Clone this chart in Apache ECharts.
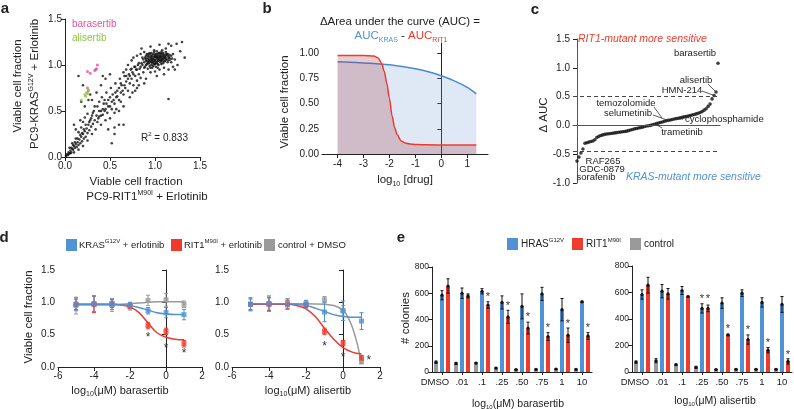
<!DOCTYPE html>
<html><head><meta charset="utf-8">
<script src="https://cdn.jsdelivr.net/npm/echarts@6/dist/echarts.min.js"></script>
<style>html,body{margin:0;padding:0;background:#fff}#c{width:794px;height:409px}</style>
</head><body><div id="c"></div>
<script>
// ---------- DATA ----------
// Panel a: scatter (KRAS vs RIT1 viable fraction)
const scatterAll = [
[0.01,0.01],[0.02,0.03],[0.03,0.02],[0.04,0.05],[0.05,0.04],[0.06,0.07],[0.07,0.05],[0.08,0.09],[0.09,0.08],[0.10,0.12],[0.11,0.10],[0.12,0.14],[0.13,0.11],[0.14,0.16],[0.15,0.13],[0.16,0.19],[0.17,0.15],[0.18,0.22],[0.19,0.17],[0.20,0.25],[0.21,0.20],[0.22,0.28],[0.23,0.22],[0.24,0.31],[0.25,0.26],[0.26,0.35],[0.27,0.29],[0.28,0.40],[0.29,0.33],[0.30,0.45],[0.31,0.36],[0.32,0.50],[0.33,0.40],[0.05,0.10],[0.08,0.15],[0.12,0.20],[0.15,0.27],[0.18,0.32],[0.20,0.38],[0.22,0.43],[0.25,0.47],[0.10,0.05],[0.15,0.08],[0.20,0.12],[0.25,0.18],[0.30,0.25],[0.12,0.30],[0.17,0.40],[0.22,0.55],[0.26,0.62],
[0.35,0.45],[0.36,0.55],[0.37,0.42],[0.38,0.60],[0.40,0.50],[0.41,0.65],[0.42,0.46],[0.43,0.58],[0.45,0.52],[0.46,0.70],[0.47,0.48],[0.48,0.62],[0.50,0.55],[0.51,0.75],[0.52,0.60],[0.53,0.68],[0.55,0.58],[0.56,0.80],[0.57,0.65],[0.58,0.72],[0.60,0.62],[0.61,0.85],[0.62,0.70],[0.63,0.78],[0.65,0.68],[0.66,0.88],[0.67,0.75],[0.68,0.82],[0.70,0.72],[0.34,0.30],[0.40,0.35],[0.45,0.40],[0.50,0.42],[0.55,0.48],[0.60,0.50],[0.65,0.55],[0.35,0.70],[0.40,0.78],[0.45,0.85],[0.50,0.90],[0.30,0.62],[0.48,0.30],[0.55,0.25],[0.52,0.15],[0.60,0.35],[0.42,0.88],[0.38,0.50],[0.44,0.62],[0.57,0.52],[0.62,0.60],
[0.71,0.90],[0.72,0.80],[0.73,0.95],[0.74,0.85],[0.75,0.92],[0.76,0.78],[0.77,0.98],[0.78,0.88],[0.79,0.95],[0.80,0.83],[0.81,1.00],[0.82,0.90],[0.83,0.96],[0.84,0.86],[0.85,1.02],[0.72,0.65],[0.75,0.70],[0.78,0.72],[0.80,0.75],[0.82,0.78],[0.70,1.00],[0.74,1.05],[0.68,0.95],[0.65,0.92],[0.76,1.08],[0.80,1.10],[0.84,1.12],[0.88,0.80],[0.90,0.85],[0.87,0.92],
[0.86,1.00],[0.88,1.03],[0.89,0.98],[0.90,1.05],[0.91,1.01],[0.92,1.07],[0.93,1.02],[0.94,1.04],[0.95,1.08],[0.96,1.00],[0.97,1.05],[0.98,1.03],[0.99,1.09],[1.00,1.06],[1.01,1.02],[1.02,1.08],[1.03,1.04],[1.04,1.10],[1.05,1.06],[1.06,1.03],[1.07,1.09],[1.08,1.05],[1.09,1.07],[1.10,1.11],[1.11,1.04],[1.12,1.08],[1.13,1.06],[1.14,1.10],[1.15,1.05],[0.92,0.96],[0.95,0.97],[0.98,0.99],[1.01,0.98],[1.04,1.00],[1.07,1.01],[0.90,1.10],[0.93,1.12],[0.96,1.13],[0.99,1.14],[1.02,1.15],[1.05,1.13],[0.94,1.06],[0.97,1.10],[1.00,1.11],[1.03,1.12],[1.06,1.12],[1.09,1.13],[0.91,1.04],[0.95,1.03],[0.97,1.07],[1.00,1.04],[1.02,1.06],[1.04,1.07],[1.06,1.08],[1.08,1.10],[0.99,1.01],[1.01,1.09],[1.03,1.08],[0.96,1.06],[0.93,1.09],[1.10,1.07],[1.12,1.11],[1.16,1.08],[1.18,1.10],[1.20,1.12],[1.18,1.03],[1.22,1.06],[1.25,1.00],[1.20,0.98],[1.15,0.95],[1.10,0.97],[1.05,0.95],[1.00,0.93],[0.95,0.92],[1.08,1.16],[1.12,1.18],[1.18,1.21],[1.24,1.23],[1.30,1.25],[1.15,1.23],[1.33,1.08],[1.28,1.15],[1.22,0.95],[1.10,0.90],[1.15,0.63],[0.88,1.14],[0.85,1.18],[0.95,1.20],[1.05,1.22],[1.02,0.88],
[0.87,1.06],[0.89,1.08],[0.91,1.12],[0.93,1.05],[0.95,1.11],[0.97,1.02],[0.99,1.05],[1.01,1.12],[1.03,1.01],[1.05,1.09],[1.07,1.05],[1.09,1.02],[1.11,1.09],[1.13,1.12],[1.15,1.08],[1.17,1.06],[0.90,1.00],[0.92,1.02],[0.94,0.99],[0.96,1.04],[0.98,1.07],[1.00,1.09],[1.02,1.03],[1.04,1.05],[1.06,1.10],[1.08,1.07],[1.10,1.04],[1.12,1.06],[1.14,1.03],[0.86,1.08],[0.88,0.97],[0.90,1.07],[0.92,1.10],[0.94,1.13],[0.96,1.09],[0.98,1.12],[1.00,1.01],[1.02,1.10],[1.04,1.13],[1.06,1.05],[1.08,1.12],[1.10,1.09],[1.12,1.14],[1.14,1.12],[1.16,1.11],[1.19,1.07],[0.97,0.97],[1.03,0.97],[0.99,1.16],[1.07,1.14],
[0.40,0.45],[0.42,0.52],[0.44,0.50],[0.46,0.58],[0.48,0.55],[0.50,0.65],[0.52,0.52],[0.54,0.62],[0.56,0.70],[0.58,0.66],[0.60,0.75],[0.62,0.80],[0.64,0.72],[0.66,0.78],[0.68,0.88],[0.70,0.85],[0.72,0.88],[0.74,0.96],[0.76,0.90],[0.78,0.98],[0.80,0.95],[0.82,1.02],[0.84,0.98],[0.36,0.38],[0.38,0.44],[0.33,0.55],[0.31,0.48],[0.29,0.42],[0.27,0.38],[0.23,0.35],[0.21,0.30],[0.19,0.26],[0.17,0.24],[0.14,0.20],[0.11,0.16],[0.09,0.13],[0.07,0.10],[0.06,0.04],[0.04,0.03],
[0.15,0.88],[0.20,0.78],[0.65,0.35],[0.55,0.32],[0.28,0.68],[0.18,0.60],[0.10,0.35]
];
const scatterBarasertib = [[0.25,0.93],[0.28,0.91],[0.33,0.94],[0.35,0.96],[0.36,1.00],[0.34,0.95],[0.25,0.75],[0.26,0.72]];
const scatterAlisertib = [[0.22,0.68],[0.24,0.70],[0.25,0.69],[0.26,0.73],[0.18,0.62],[0.23,0.66]];

// Panel b: schematic dose-response curves
const bKrasX = [-4,-3.5,-3,-2.5,-2,-1.5,-1,-0.5,0,0.5,1,1.35];
const bKrasY = [0.914,0.91,0.903,0.894,0.884,0.866,0.844,0.815,0.775,0.725,0.66,0.596];
const bRitX = [-4,-3,-2.6,-2.45,-2.3,-2.2,-2.1,-2.0,-1.9,-1.8,-1.7,-1.55,-1.4,-1.2,-1,0,1,1.35];
const bRitY = [0.975,0.975,0.97,0.955,0.90,0.82,0.70,0.55,0.38,0.26,0.19,0.13,0.11,0.10,0.095,0.09,0.09,0.09];
const bXTicks = [-4,-3,-2,-1,0,1];
const bYTicks = [0,0.25,0.5,0.75,1.0];

// Panel c: sorted delta AUC (rank order)
const cDeltaAUC = [-0.62,-0.55,-0.48,-0.41,-0.31,-0.30,-0.29,-0.28,-0.27,-0.25,-0.21,-0.19,-0.175,-0.165,-0.155,-0.15,-0.145,-0.14,-0.135,-0.13,-0.125,-0.12,-0.115,-0.11,-0.105,-0.10,-0.09,-0.08,-0.07,-0.06,-0.053,-0.045,-0.038,-0.03,-0.02,-0.01,-0.005,0.0,0.01,0.02,0.03,0.04,0.05,0.06,0.07,0.08,0.088,0.095,0.103,0.11,0.118,0.125,0.133,0.14,0.148,0.155,0.163,0.17,0.18,0.19,0.20,0.21,0.225,0.24,0.265,0.29,0.33,0.37,0.46,0.52,0.58,1.08];
const cThresholds = [0.5, -0.45];

// Panel d: dose-response (log10 uM)
const dDoses = [-5,-4,-3,-2,-1,0,1];
const dBaraKras = [0.97,0.98,0.97,0.95,0.87,0.84,0.81];
const dBaraKrasErr = [0.10,0.12,0.08,0.05,0.05,0.08,0.08];
const dBaraRit = [0.97,0.97,0.98,0.94,0.64,0.55,0.36];
const dBaraRitErr = [0.08,0.13,0.06,0.03,0.05,0.05,0.05];
const dBaraCtrl = [0.95,0.97,0.96,0.94,1.03,1.04,0.97];
const dBaraCtrlErr = [0.13,0.12,0.10,0.06,0.08,0.10,0.05];
const dFitX = [-5,-4,-3,-2.5,-2,-1.5,-1,-0.5,0,0.5,1];
const dBaraKrasFit = [0.97,0.97,0.97,0.96,0.95,0.92,0.88,0.84,0.82,0.81,0.81];
const dBaraRitFit = [0.97,0.97,0.97,0.96,0.93,0.84,0.68,0.53,0.46,0.43,0.42];
const dBaraCtrlFit = [0.96,0.96,0.96,0.97,0.98,0.99,1.00,1.01,1.01,1.01,1.01];
const dBaraStars = [[-1,0.45],[0,0.29],[1,0.20]];

const dAliKras = [0.97,0.98,0.97,0.97,0.85,0.87,0.71];
const dAliKrasErr = [0.10,0.12,0.08,0.06,0.15,0.15,0.13];
const dAliRit = [0.97,0.97,0.97,0.96,0.55,0.37,0.14];
const dAliRitErr = [0.08,0.10,0.06,0.04,0.05,0.04,0.04];
const dAliCtrl = [0.97,0.98,0.98,0.98,1.04,0.87,0.08];
const dAliCtrlErr = [0.10,0.10,0.08,0.05,0.05,0.08,0.03];
const dAliKrasFit = [0.98,0.98,0.98,0.97,0.95,0.91,0.86,0.81,0.78,0.77,0.77];
const dAliRitFit = [0.97,0.97,0.97,0.95,0.90,0.78,0.60,0.43,0.30,0.23,0.20];
const dAliCtrlFitX = [-5,-3,-2,-1,-0.5,0,0.25,0.5,0.75,1];
const dAliCtrlFit = [0.98,0.98,0.98,0.97,0.95,0.88,0.78,0.62,0.38,0.05];
const dAliStars = [[-1,0.32],[0,0.14],[1.4,0.10]];

// Panel e: colonies
const eCats = ['DMSO','.01','.1','.25','.50','.75','1','10'];
const eBaraCtrl = [75,65,68,30,18,20,22,20];
const eBaraCtrlErr = [8,8,5,5,3,3,3,3];
const eBaraHras = [585,600,615,530,500,595,475,535];
const eBaraHrasErr = [35,40,20,50,95,50,85,5];
const eBaraRit = [655,580,510,420,335,270,280,275];
const eBaraRitErr = [55,15,25,50,45,30,55,25];
const eBaraStars = [[2,573],[3,503],[4,423],[5,335],[6,365],[7,334]];

const eAliCtrl = [75,85,55,35,18,20,20,20];
const eAliCtrlErr = [8,15,5,8,3,3,3,3];
const eAliHras = [585,610,615,480,520,595,525,510];
const eAliHrasErr = [35,50,30,35,40,25,35,60];
const eAliRit = [655,590,570,480,280,245,165,80];
const eAliRitErr = [60,40,3,25,5,35,20,20];
const eAliStarsHras = [[3,549]];
const eAliStarsRit = [[3,549],[4,324],[5,318],[6,218],[7,125]];

// ---------- STYLE ----------
const FONT = 'Liberation Sans, Arial, sans-serif';
const BLUE = '#4f92d6', RED = '#ee3b2d', GRAY = '#9a9a9a', INK = '#222';
const zip = (xs, ys) => xs.map((x, i) => [x, ys[i]]);
const zip3 = (xs, ys, es) => xs.map((x, i) => [x, ys[i], es[i]]);
const eIdx = eCats.map((c, i) => i);

const chart = echarts.init(document.getElementById('c'), null, {renderer: 'canvas'});

function axisBase(gi, extra) {
  return Object.assign({
    gridIndex: gi, type: 'value',
    axisLine: {show: true, lineStyle: {color: INK, width: 1}},
    axisTick: {show: true, length: 4, lineStyle: {color: INK}},
    splitLine: {show: false},
    axisLabel: {color: INK, fontFamily: FONT, fontSize: 10, margin: 4}
  }, extra);
}
function fixed(n) { return v => v.toFixed(n); }

function errBar(offsetPx, color, capW, dotR) {
  return function (params, api) {
    const x = api.value(0), y = api.value(1), e = api.value(2);
    const c = api.coord([x, y]), hi = api.coord([x, y + e]), lo = api.coord([x, y - e]);
    const cx = c[0] + offsetPx;
    const st = {stroke: color, lineWidth: 1};
    const ch = [
      {type: 'line', shape: {x1: cx, y1: hi[1], x2: cx, y2: lo[1]}, style: st},
      {type: 'line', shape: {x1: cx - capW, y1: hi[1], x2: cx + capW, y2: hi[1]}, style: st},
      {type: 'line', shape: {x1: cx - capW, y1: lo[1], x2: cx + capW, y2: lo[1]}, style: st}
    ];
    if (dotR) ch.push({type: 'circle', shape: {cx: cx, cy: c[1], r: dotR}, style: {fill: '#111'}});
    return {type: 'group', children: ch};
  };
}
function starRender(offsetPx, size) {
  return function (params, api) {
    const c = api.coord([api.value(0), api.value(1)]);
    return {type: 'text', x: c[0] + offsetPx, y: c[1],
      style: {text: '*', fill: '#333', font: size + 'px ' + FONT, align: 'center', verticalAlign: 'middle'}};
  };
}
function errSeries(gi, data, off, color, capW, dotR) {
  return {type: 'custom', xAxisIndex: gi, yAxisIndex: gi, data: data, renderItem: errBar(off, color, capW, dotR), z: 5, silent: true};
}
function starSeries(gi, data, off, size) {
  return {type: 'custom', xAxisIndex: gi, yAxisIndex: gi, data: data, renderItem: starRender(off, size), z: 6, silent: true};
}
function fitLine(gi, data, color) {
  return {type: 'line', xAxisIndex: gi, yAxisIndex: gi, data: data, showSymbol: false, smooth: 0.4,
    lineStyle: {color: color, width: 1.5}, z: 3, silent: true};
}
function pts(gi, data, color) {
  return {type: 'scatter', xAxisIndex: gi, yAxisIndex: gi, data: data, symbol: 'rect', symbolSize: 5,
    itemStyle: {color: color}, z: 6, silent: true};
}
function bars(gi, data, color) {
  return {type: 'bar', xAxisIndex: gi, yAxisIndex: gi, data: data, barWidth: 4, barGap: '50%',
    itemStyle: {color: color}, silent: true};
}
function catAxis(gi) {
  return axisBase(gi, {type: 'category', data: eCats,
    axisTick: {show: true, alignWithLabel: true, length: 3, lineStyle: {color: INK}},
    axisLabel: {color: INK, fontFamily: FONT, fontSize: 9.5, margin: 5, interval: 0,
      formatter: v => v === 'DMSO' ? '{d|DMSO}' : v,
      rich: {d: {fontFamily: FONT, fontSize: 9.5, color: INK, padding: [0, 14, 0, 0]}}}});
}

function txt(x, y, text, size, opts) {
  opts = opts || {};
  const col = opts.color || INK;
  const sm = Math.round(size * 0.6);
  const rich = {
    n: {fontFamily: FONT, fontSize: size, fill: col, lineHeight: size + 3},
    sup: {fontFamily: FONT, fontSize: sm, verticalAlign: 'top', fill: col},
    sub: {fontFamily: FONT, fontSize: sm, verticalAlign: 'bottom', fill: col},
    b: {fontFamily: FONT, fontSize: size, fill: BLUE},
    bs: {fontFamily: FONT, fontSize: sm, verticalAlign: 'bottom', fill: BLUE},
    r: {fontFamily: FONT, fontSize: size, fill: RED},
    rs: {fontFamily: FONT, fontSize: sm, verticalAlign: 'bottom', fill: RED}
  };
  return {type: 'text', x: x, y: y, rotation: opts.rot || 0, z: 100,
    style: {text: text, rich: rich, fill: col,
      font: (opts.italic ? 'italic ' : '') + (opts.bold ? 'bold ' : '') + size + 'px ' + FONT,
      align: opts.align || 'center', verticalAlign: 'middle'}};
}
function sq(x, y, color) {
  return {type: 'rect', shape: {x: x, y: y, width: 11, height: 12}, style: {fill: color}, z: 100};
}
function seg(x1, y1, x2, y2) {
  return {type: 'line', shape: {x1: x1, y1: y1, x2: x2, y2: y2}, style: {stroke: '#333', lineWidth: 0.8}, z: 100};
}

const cIdx = cDeltaAUC.map((v, i) => [i, v]);

const option = {
  animation: false,
  backgroundColor: '#fff',
  grid: [
    {left: 65, top: 19, width: 135, height: 138},
    {left: 322, top: 43, width: 166, height: 111},
    {left: 573, top: 39, width: 147, height: 144},
    {left: 58, top: 270, width: 144, height: 97},
    {left: 232, top: 270, width: 148, height: 97},
    {left: 432, top: 267, width: 160, height: 105},
    {left: 632, top: 266, width: 160, height: 106}
  ],
  xAxis: [
    axisBase(0, {min: 0, max: 1.5, interval: 0.5, axisLabel: {color: INK, fontFamily: FONT, fontSize: 10, margin: 4, formatter: fixed(1)}}),
    axisBase(1, {min: -4.6, max: 1.8,
      axisTick: {show: true, length: 4, lineStyle: {color: INK}, customValues: bXTicks},
      axisLabel: {color: INK, fontFamily: FONT, fontSize: 10, margin: 5, customValues: bXTicks}}),
    axisBase(2, {min: -2, max: 72, axisTick: {show: false}, axisLabel: {show: false}, axisLine: {show: true, lineStyle: {color: '#555', width: 1}}}),
    axisBase(3, {min: -6, max: 2, interval: 2}),
    axisBase(4, {min: -6, max: 2, interval: 2}),
    catAxis(5),
    catAxis(6)
  ],
  yAxis: [
    axisBase(0, {min: 0, max: 1.5, interval: 0.5, axisLabel: {color: INK, fontFamily: FONT, fontSize: 10, margin: 3, formatter: fixed(1)}}),
    axisBase(1, {min: 0, max: 1.1,
      axisTick: {show: true, length: 4, lineStyle: {color: INK}, customValues: bYTicks},
      axisLabel: {color: INK, fontFamily: FONT, fontSize: 10, margin: 3, customValues: bYTicks, formatter: fixed(2)}}),
    axisBase(2, {min: -1, max: 1.5, interval: 0.5, axisLine: {show: true, lineStyle: {color: '#555'}}, axisLabel: {color: INK, fontFamily: FONT, fontSize: 10, margin: 3, formatter: fixed(1)}}),
    axisBase(3, {min: 0, max: 1.5, interval: 0.5, axisLabel: {color: INK, fontFamily: FONT, fontSize: 10, margin: 3, formatter: fixed(1)}}),
    axisBase(4, {min: 0, max: 1.5, interval: 0.5, axisLabel: {color: INK, fontFamily: FONT, fontSize: 10, margin: 3, formatter: fixed(1)}}),
    axisBase(5, {min: 0, max: 800, interval: 200, axisLabel: {color: INK, fontFamily: FONT, fontSize: 8.5, margin: 3}}),
    axisBase(6, {min: 0, max: 800, interval: 200, axisLabel: {color: INK, fontFamily: FONT, fontSize: 8.5, margin: 3}})
  ],
  series: [
    // a
    {type: 'scatter', xAxisIndex: 0, yAxisIndex: 0, data: scatterAll, symbolSize: 2.6, itemStyle: {color: '#111'}, silent: true},
    {type: 'scatter', xAxisIndex: 0, yAxisIndex: 0, data: scatterBarasertib, symbolSize: 3, itemStyle: {color: '#ec4f9a'}, silent: true, z: 4},
    {type: 'scatter', xAxisIndex: 0, yAxisIndex: 0, data: scatterAlisertib, symbolSize: 3, itemStyle: {color: '#8cc63f'}, silent: true, z: 4},
    // b
    {type: 'line', xAxisIndex: 1, yAxisIndex: 1, data: zip(bKrasX, bKrasY), showSymbol: false, smooth: 0.3,
      lineStyle: {color: '#4a8ad4', width: 1.5}, areaStyle: {color: 'rgba(120,165,215,0.35)', origin: 'start'}, z: 2, silent: true},
    {type: 'line', xAxisIndex: 1, yAxisIndex: 1, data: zip(bRitX, bRitY), showSymbol: false, smooth: 0.3, smoothMonotone: 'x',
      lineStyle: {color: RED, width: 1.5}, areaStyle: {color: 'rgba(160,50,60,0.35)', origin: 'start'}, z: 3, silent: true},
    // c
    {type: 'scatter', xAxisIndex: 2, yAxisIndex: 2, data: cIdx, symbolSize: 3.6, itemStyle: {color: '#111'}, silent: true, z: 4,
      markLine: {silent: true, symbol: 'none', label: {show: false}, animation: false,
        data: [
          {yAxis: 0, lineStyle: {color: '#555', type: 'solid', width: 1}},
          {yAxis: cThresholds[0], lineStyle: {color: '#444', type: [4, 3], width: 1}},
          {yAxis: cThresholds[1], lineStyle: {color: '#444', type: [4, 3], width: 1}}
        ]}},
    // d left (barasertib)
    fitLine(3, zip(dFitX, dBaraCtrlFit), GRAY),
    fitLine(3, zip(dFitX, dBaraRitFit), RED),
    fitLine(3, zip(dFitX, dBaraKrasFit), BLUE),
    errSeries(3, zip3(dDoses, dBaraCtrl, dBaraCtrlErr), 0, GRAY, 2),
    errSeries(3, zip3(dDoses, dBaraRit, dBaraRitErr), 0, RED, 2),
    errSeries(3, zip3(dDoses, dBaraKras, dBaraKrasErr), 0, BLUE, 2),
    pts(3, zip(dDoses, dBaraCtrl), GRAY),
    pts(3, zip(dDoses, dBaraRit), RED),
    pts(3, zip(dDoses, dBaraKras), BLUE),
    starSeries(3, dBaraStars, 0, 12),
    // d right (alisertib)
    fitLine(4, zip(dAliCtrlFitX, dAliCtrlFit), GRAY),
    fitLine(4, zip(dFitX, dAliRitFit), RED),
    fitLine(4, zip(dFitX, dAliKrasFit), BLUE),
    errSeries(4, zip3(dDoses, dAliCtrl, dAliCtrlErr), 0, GRAY, 2),
    errSeries(4, zip3(dDoses, dAliRit, dAliRitErr), 0, RED, 2),
    errSeries(4, zip3(dDoses, dAliKras, dAliKrasErr), 0, BLUE, 2),
    pts(4, zip(dDoses, dAliCtrl), GRAY),
    pts(4, zip(dDoses, dAliRit), RED),
    pts(4, zip(dDoses, dAliKras), BLUE),
    starSeries(4, dAliStars, 0, 12),
    // e left
    bars(5, eBaraCtrl, GRAY), bars(5, eBaraHras, BLUE), bars(5, eBaraRit, RED),
    errSeries(5, zip3(eIdx, eBaraCtrl, eBaraCtrlErr), -6, '#111', 1.5, 1.6),
    errSeries(5, zip3(eIdx, eBaraHras, eBaraHrasErr), 0, '#111', 1.5, 1.6),
    errSeries(5, zip3(eIdx, eBaraRit, eBaraRitErr), 6, '#111', 1.5, 1.6),
    starSeries(5, eBaraStars, 6, 11),
    // e right
    bars(6, eAliCtrl, GRAY), bars(6, eAliHras, BLUE), bars(6, eAliRit, RED),
    errSeries(6, zip3(eIdx, eAliCtrl, eAliCtrlErr), -6, '#111', 1.5, 1.6),
    errSeries(6, zip3(eIdx, eAliHras, eAliHrasErr), 0, '#111', 1.5, 1.6),
    errSeries(6, zip3(eIdx, eAliRit, eAliRitErr), 6, '#111', 1.5, 1.6),
    starSeries(6, eAliStarsHras, 0, 11),
    starSeries(6, eAliStarsRit, 6, 11)
  ],
  graphic: [
    // panel letters
    txt(5, 9, 'a', 15, {bold: true}),
    txt(267, 9, 'b', 15, {bold: true}),
    txt(535, 10, 'c', 15, {bold: true}),
    txt(4, 238, 'd', 15, {bold: true}),
    txt(401, 238, 'e', 15, {bold: true}),
    // a
    txt(18, 86, '{n|Viable cell fraction}', 11.5, {rot: Math.PI / 2}),
    txt(35, 84, '{n|PC9-KRAS}{sup|G12V}{n| + Erlotinib}', 11.5, {rot: Math.PI / 2}),
    txt(136, 182, '{n|Viable cell fraction}', 11.5),
    txt(147, 197, '{n|PC9-RIT1}{sup|M90I}{n| + Erlotinib}', 11.5),
    txt(72, 24, 'barasertib', 10, {align: 'left', color: '#ec4f9a'}),
    txt(72, 38, 'alisertib', 10, {align: 'left', color: '#8cc63f'}),
    txt(141, 138, '{n|R}{sup|2}{n| = 0.833}', 10, {align: 'left'}),
    // b
    txt(400, 22, '\u0394Area under the curve (AUC) =', 11.5),
    txt(401, 36, '{b|AUC}{bs|KRAS}{n| - }{r|AUC}{rs|RIT1}', 11.5),
    txt(285, 102, '{n|Viable cell fraction}', 11.5, {rot: Math.PI / 2}),
    txt(405, 180, '{n|log}{sub|10}{n| [drug]}', 11.5),
    // c
    txt(544, 115, '\u0394 AUC', 11.5, {rot: Math.PI / 2}),
    txt(578, 39, 'RIT1-mutant more sensitive', 10.5, {align: 'left', italic: true, color: RED}),
    txt(626, 177, 'KRAS-mutant more sensitive', 10.5, {align: 'left', italic: true, color: BLUE}),
    txt(695, 53, 'barasertib', 9.5),
    txt(696, 80, 'alisertib', 9.5),
    txt(682, 90, 'HMN-214', 9.5),
    txt(626, 103, 'temozolomide', 9.5),
    txt(628, 113, 'selumetinib', 9.5),
    txt(685, 119, 'cyclophosphamide', 9.5, {align: 'left'}),
    txt(682, 132, 'trametinib', 9.5),
    txt(603, 161, 'RAF265', 9.5),
    txt(602, 169, 'GDC-0879', 9.5),
    txt(596, 177, 'sorafenib', 9.5),
    seg(708, 84, 715, 91), seg(702, 91, 713, 95),
    seg(654, 107, 662, 118), seg(653, 115, 667, 120),
    seg(683, 119, 671, 119), seg(662, 128, 655, 124),
    // d
    sq(66, 239, BLUE), txt(79, 245, '{n|KRAS}{sup|G12V}{n| + erlotinib}', 9.5, {align: 'left'}),
    sq(171, 239, RED), txt(184, 245, '{n|RIT1}{sup|M90I}{n| + erlotinib}', 9.5, {align: 'left'}),
    sq(264, 239, GRAY), txt(278, 245, 'control + DMSO', 9.5, {align: 'left'}),
    txt(29, 317, '{n|Viable cell fraction}', 11.5, {rot: Math.PI / 2}),
    txt(120, 391, '{n|log}{sub|10}{n|(\u03bcM) barasertib}', 11),
    txt(308, 391, '{n|log}{sub|10}{n|(\u03bcM) alisertib}', 11),
    // e
    sq(507, 238, BLUE), txt(521, 244, '{n|HRAS}{sup|G12V}', 10, {align: 'left'}),
    sq(572, 238, RED), txt(586, 244, '{n|RIT1}{sup|M90I}', 10, {align: 'left'}),
    sq(630, 238, GRAY), txt(644, 244, 'control', 10, {align: 'left'}),
    txt(406, 318, '# colonies', 11.5, {rot: Math.PI / 2}),
    txt(518, 404, '{n|log}{sub|10}{n|(\u03bcM) barasertib}', 10.5),
    txt(715, 401, '{n|log}{sub|10}{n|(\u03bcM) alisertib}', 10.5)
  ]
};
chart.setOption(option);
</script></body></html>
